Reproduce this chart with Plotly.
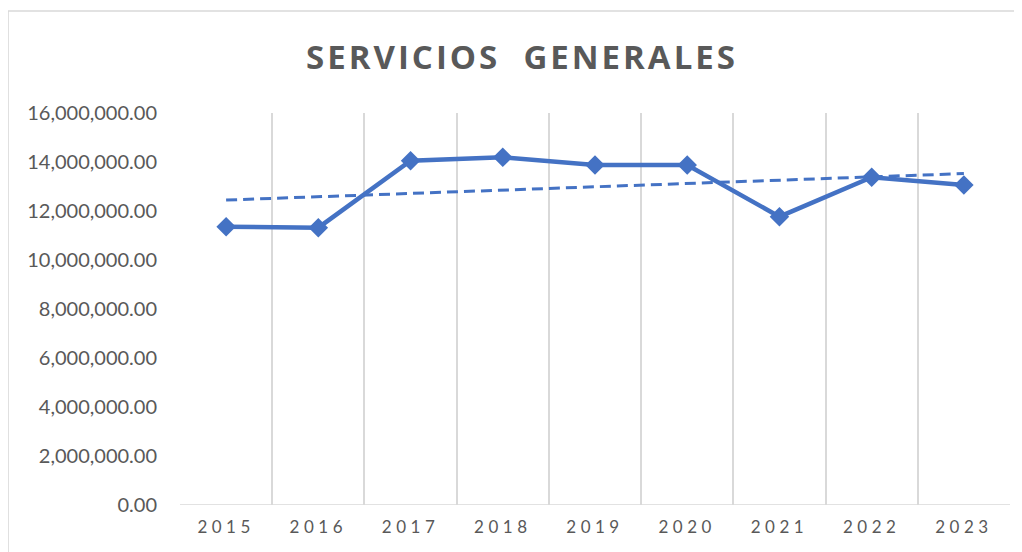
import numpy as np
import plotly.graph_objects as go

years = ["2015", "2016", "2017", "2018", "2019", "2020", "2021", "2022", "2023"]
values = [11360000, 11320000, 14050000, 14190000, 13880000, 13880000, 11770000, 13380000, 13060000]
y_ticks = [0, 2000000, 4000000, 6000000, 8000000, 10000000, 12000000, 14000000, 16000000]
title_text = "SERVICIOS  GENERALES"

x = np.arange(1, len(years) + 1)
slope, intercept = np.polyfit(x, values, 1)
trend = slope * x + intercept

BLUE = "#4472C4"
GRID = "#d9d9d9"
TXT = "#595959"
FONT = "Lato, 'Open Sans', sans-serif"

# page body has an 8px margin; figure laid out to compensate
W, H = 1014, 544
L, T, R, B = 172, 105, 12, 47
PW, PH = W - L - R, H - T - B

fig = go.Figure()
fig.add_trace(go.Scatter(
    x=x, y=trend, mode="lines",
    line=dict(color=BLUE, width=3, dash="11px,6px"),
    hoverinfo="skip", showlegend=False,
))
fig.add_trace(go.Scatter(
    x=x, y=values, mode="lines+markers",
    line=dict(color=BLUE, width=4.5),
    marker=dict(symbol="diamond", size=15, color=BLUE),
    showlegend=False,
))

ls = lambda s, sp: f'<span style="letter-spacing:{sp}px">{s}</span>'

fig.update_layout(
    width=W, height=H,
    margin=dict(l=L, r=R, t=T, b=B),
    paper_bgcolor="white", plot_bgcolor="white",
    font=dict(family=FONT, color=TXT),
    title=dict(
        text=ls(title_text, 3),
        x=514 / W, xanchor="center", xref="container",
        y=1 - 49 / H, yanchor="middle", yref="container",
        font=dict(size=33, color=TXT, family="'Open Sans', sans-serif", weight="bold"),
    ),
    xaxis=dict(
        range=[0.5, len(years) + 0.5],
        tickvals=list(x), ticktext=[ls(y, 4.5) for y in years],
        showgrid=False, zeroline=False, showline=False, ticks="",
        tickfont=dict(size=17, color=TXT, family=FONT),
        minor=dict(tick0=0.5, dtick=1, showgrid=True, gridcolor=GRID, gridwidth=1.6, ticks=""),
        ticklabelstandoff=10,
    ),
    yaxis=dict(
        range=[0, 16000000],
        tickvals=y_ticks, tickformat=",.2f",
        showgrid=False, zeroline=False,
        showline=False, ticks="",
        tickfont=dict(size=20, color=TXT, family=FONT),
        ticklabelstandoff=22,
    ),
    shapes=[
        dict(type="line", xref="paper", yref="y", x0=0, x1=1, y0=0, y1=0,
             line=dict(color=GRID, width=1.6), layer="below"),
        dict(type="rect", xref="paper", yref="paper",
             x0=(0 - L) / PW, x1=(W + 30 - L) / PW,
             y0=-(B + 30) / PH, y1=(PH + T - 3) / PH,
             line=dict(color=GRID, width=1.6), layer="below"),
    ],
)

fig.write_html("out.html")
